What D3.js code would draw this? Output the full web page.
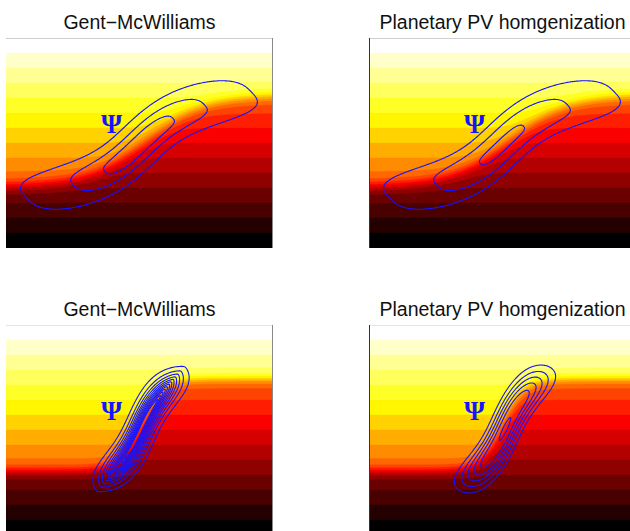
<!DOCTYPE html>
<html>
<head>
<meta charset="utf-8">
<script src="https://cdn.jsdelivr.net/npm/d3@7"></script>
<style>
  body { margin: 0; background: #fff; }
</style>
</head>
<body>
<div id="plot"></div>
<script>
// panel titles, row by row
const titles = ["Gent\u2212McWilliams", "Planetary PV homgenization",
                "Gent\u2212McWilliams", "Planetary PV homgenization"];

// section grid: x along the section, z down, in grid cells
const NX = 267, NZ = 210;

// density classes (hot colormap, light water on top)
const nBands = 20;
const stratBands = 14;   // classes across an undisturbed column
const frontJump = 6;     // classes squeezed into the front

// front: [z of centre, half rise, x of centre, x scale, width]
const fronts = [
  [103, 46, 140, 60, 7],
  [103, 46, 140, 60, 7],
  [100, 46, 134, 22, 6],
  [100, 46, 134, 22, 6]
];

// streamfunction axis: [x0, z0, tilt (deg), bend, bend scale]
const jetAxis = [
  [133, 107, 43.5, 0.65, 60],
  [133, 107, 43.5, 0.65, 60],
  [135, 104, 65, 0.35, 38],
  [136, 104, 65, 0.35, 38]
];
// streamfunction body: [along scale, along power, across scale, across power, end swell]
const jetShape = [
  [118, 3, 23, 3, 0.2],
  [118, 3, 23, 3, 0.2],
  [58.9, 3.8, 8.4, 1.3, 0.3],
  [67.8, 4, 13.5, 2, 0.3]
];
// small core bump: [amplitude, along scale, across scale]
const jetCore = [
  [0, 1, 1],
  [0, 1, 1],
  [0, 1, 1],
  [0.12, 14, 3]
];

// contour levels of psi
const psiLevels = [
  [0.368, 0.773, 0.953],
  [0.368, 0.773, 0.986],
  [0.082, 0.155, 0.227, 0.300, 0.373, 0.446, 0.518, 0.591, 0.664, 0.737, 0.809, 0.882],
  [0.223, 0.375, 0.526, 0.678, 0.829, 1.05]
];

// where the psi label sits (grid cells)
const psiLabel = [105.5, 95];

// ---- layout
const W = 267, H = 210;
const origins = [[6, 38], [369, 38], [6, 325], [369, 325]];

const svg = d3.select("#plot").append("svg")
  .attr("width", 630)
  .attr("height", 531);

const xScale = d3.scaleLinear().domain([0, NX]).range([0, W]);
const zScale = d3.scaleLinear().domain([0, NZ]).range([0, H]);

const path = d3.geoPath(d3.geoTransform({
  point: function(x, y) { this.stream.point(xScale(x), zScale(y)); }
}));

function hot(t) {
  const c = v => Math.max(0, Math.min(1, v));
  const r = c(t / 0.375), g = c((t - 0.375) / 0.375), b = c((t - 0.75) / 0.25);
  return d3.rgb(r * 255, g * 255, b * 255).formatHex();
}
const bandColor = k => hot((nBands - 1 - k) / (nBands - 1));

function densityGrid(f) {
  const [zc, amp, xc, w, wf] = f;
  const vals = new Float64Array(NX * NZ);
  for (let j = 0; j < NZ; j++) {
    const z = j + 0.5;
    for (let i = 0; i < NX; i++) {
      const x = i + 0.5;
      const t = Math.tanh((x - xc) / w);
      const zf = zc - amp * t;
      const slope = -amp / w * (1 - t * t);
      const n = (z - zf) / Math.sqrt(1 + slope * slope);
      vals[j * NX + i] = stratBands * z / NZ + frontJump * 0.5 * (1 + Math.tanh(n / wf));
    }
  }
  return vals;
}

function psiGrid(k) {
  const [x0, z0, tilt, bend, L] = jetAxis[k];
  const [Ls, p, Ln, q, swell] = jetShape[k];
  const [amp, cl, cw] = jetCore[k];
  const a = tilt * Math.PI / 180, ca = Math.cos(a), sa = Math.sin(a);
  const vals = new Float64Array(NX * NZ);
  for (let j = 0; j < NZ; j++) {
    const dz = j + 0.5 - z0;
    for (let i = 0; i < NX; i++) {
      const dx = i + 0.5 - x0;
      const u = dx * ca - dz * sa;
      const v = dx * sa + dz * ca;
      const th = Math.tanh(u / L);
      const vc = bend * (u - L * th);
      const sl = bend * th * th;
      const n = (v - vc) / Math.sqrt(1 + sl * sl);
      const lw = Ln * (1 + swell * (u / Ls) * (u / Ls));
      const c = Math.pow(Math.abs(u) / Ls, p) + Math.pow(Math.abs(n) / lw, q);
      vals[j * NX + i] = Math.exp(-c) + amp * Math.exp(-(u / cl) * (u / cl) - (n / cw) * (n / cw));
    }
  }
  return vals;
}

origins.forEach(([ox, oy], k) => {
  const g = svg.append("g").attr("transform", "translate(" + ox + "," + oy + ")");

  g.append("clipPath").attr("id", "clip" + k)
    .append("rect").attr("width", W).attr("height", H);
  const body = g.append("g").attr("clip-path", "url(#clip" + k + ")");

  // filled density classes
  body.append("rect").attr("width", W).attr("height", H).attr("fill", bandColor(0));
  const dens = d3.contours().size([NX, NZ]).thresholds(d3.range(1, nBands))(densityGrid(fronts[k]));
  body.selectAll("path.band").data(dens).join("path")
    .attr("class", "band")
    .attr("d", path)
    .attr("fill", d => bandColor(d.value))
    .attr("stroke", d => bandColor(d.value))
    .attr("stroke-width", 0.3);

  // streamfunction
  const psi = d3.contours().size([NX, NZ]).thresholds(psiLevels[k])(psiGrid(k));
  body.selectAll("path.psi").data(psi).join("path")
    .attr("class", "psi")
    .attr("d", path)
    .attr("fill", "none")
    .attr("stroke", "#1414ff")
    .attr("stroke-width", 1.1);

  g.append("text")
    .attr("x", xScale(psiLabel[0]))
    .attr("y", zScale(psiLabel[1]))
    .attr("text-anchor", "middle")
    .attr("font-family", "'Liberation Serif', 'DejaVu Serif', serif")
    .attr("font-weight", "bold")
    .attr("font-size", 27)
    .attr("fill", "#1414ff")
    .text("\u03A8");

  // frame edges
  const top = k < 2;
  g.append("line").attr("x1", 0).attr("x2", W).attr("y1", 0.5).attr("y2", 0.5)
    .attr("stroke", top ? "#cfcfcf" : "#ffe890").attr("stroke-width", 1);
  if (k % 2 === 0) {
    g.append("line").attr("x1", W - 0.5).attr("x2", W - 0.5).attr("y1", 0).attr("y2", H)
      .attr("stroke", "#888").attr("stroke-width", 1);
  } else {
    g.append("line").attr("x1", 0.5).attr("x2", 0.5).attr("y1", 0).attr("y2", H)
      .attr("stroke", "#333").attr("stroke-width", 1);
  }

  svg.append("text")
    .attr("x", ox + W / 2)
    .attr("y", oy - 9)
    .attr("text-anchor", "middle")
    .attr("font-family", "'Liberation Sans', Arial, sans-serif")
    .attr("font-size", 19.5)
    .attr("fill", "#111")
    .text(titles[k]);
});
</script>
</body>
</html>
